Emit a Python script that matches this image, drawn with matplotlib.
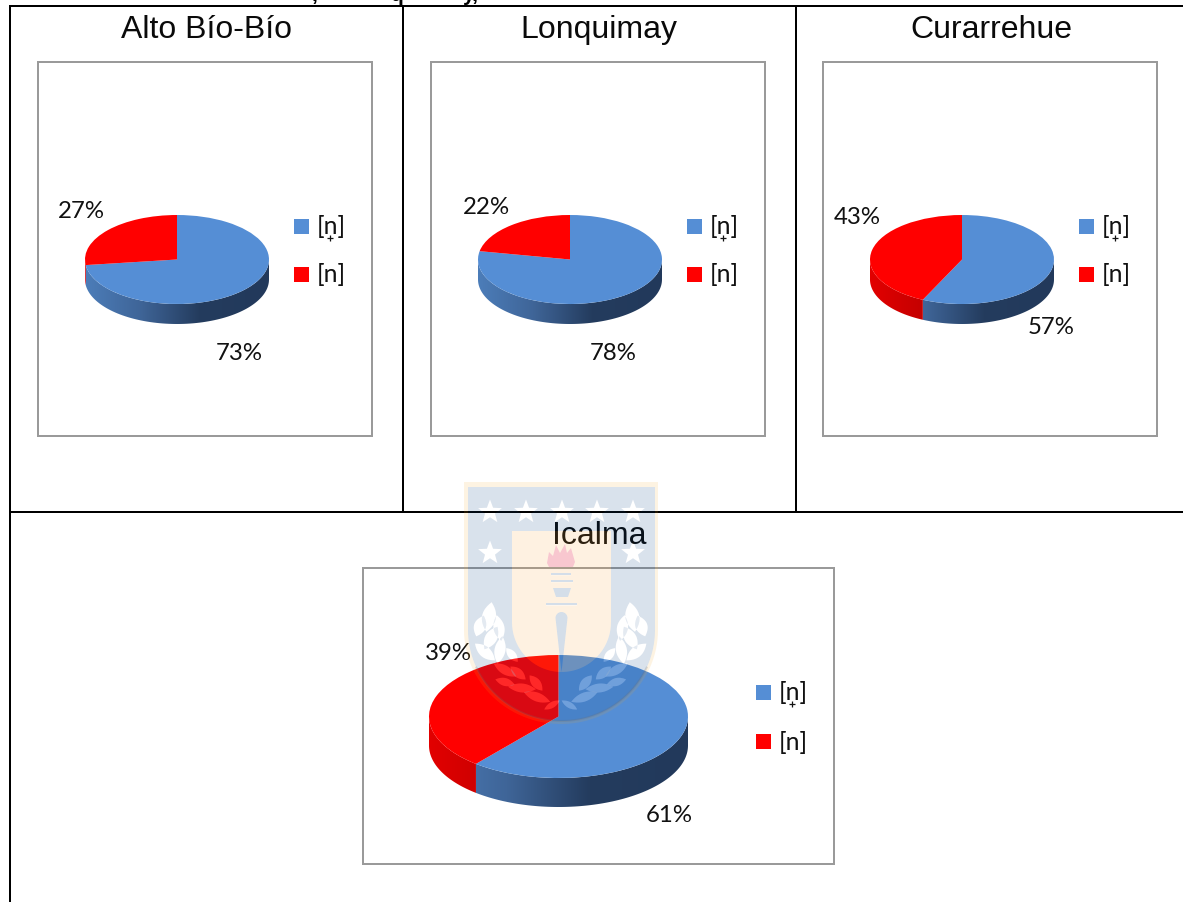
import numpy as np
import matplotlib
matplotlib.use("Agg")
import matplotlib.pyplot as plt
from matplotlib.colors import LinearSegmentedColormap
from matplotlib.patches import PathPatch, Polygon, Rectangle
from matplotlib.path import Path

# Share of each segment per locality
localities = ["Alto Bío-Bío", "Lonquimay", "Curarrehue", "Icalma"]
advanced_n = [73, 78, 57, 61]
plain_n = [27, 22, 43, 39]
legend_labels = ["[n]", "[n]"]
legend_diacritics = [True, False]

W, H = 1183, 902
BLUE, RED = "#558ED5", "#FF0000"
TITLE_FONT = ["Liberation Sans", "DejaVu Sans"]
BODY_FONT = ["Lato", "DejaVu Sans"]

# Pixel layout of each panel
panels = [
    dict(frame=(38.5, 62, 372.5, 436), cx=177, cy=259.5, rx=92, ry=44.5, depth=20,
         title=(207, 30), lab_a=(239, 353), lab_b=(81, 212), leg_x=294, leg_y=(226, 274)),
    dict(frame=(431, 62, 765, 436), cx=570, cy=259.5, rx=92, ry=44.5, depth=20,
         title=(599, 30), lab_a=(613, 353), lab_b=(486, 208), leg_x=687, leg_y=(226, 274)),
    dict(frame=(823.5, 62, 1157.5, 436), cx=962, cy=259.5, rx=92, ry=44.5, depth=20,
         title=(991, 30), lab_a=(1051, 327), lab_b=(857, 218), leg_x=1079, leg_y=(226, 274)),
    dict(frame=(363, 568, 834, 864), cx=558.5, cy=716.5, rx=129.5, ry=61.5, depth=29,
         title=(599, 536), lab_a=(669, 816), lab_b=(448, 654), leg_x=756, leg_y=(692, 741)),
]

fig = plt.figure(figsize=(W / 100, H / 100), dpi=100, facecolor="white")
base = fig.add_axes([0, 0, 1, 1], zorder=0)
base.set_xlim(0, W)
base.set_ylim(H, 0)
base.axis("off")


def px(n):
    return n * 72 / 100


# Table rules
rule = dict(color="black", lw=px(2), solid_capstyle="butt")
base.plot([10, W], [6, 6], **rule)
base.plot([10, W], [512, 512], **rule)
base.plot([10, 10], [5, H], **rule)
base.plot([403, 403], [6, 512], **rule)
base.plot([796, 796], [6, 512], **rule)

# Caption running off the top edge
for xpos, frag in [(312, ","), (390, "q"), (463, "y,")]:
    base.text(xpos, 1, frag, fontsize=15, fontweight="bold", family=TITLE_FONT,
              ha="left", va="baseline", color="black")

blue_side = LinearSegmentedColormap.from_list(
    "blue_side", [(0, "#4C7DB9"), (0.3, "#3F6598"), (0.62, "#243C5E"), (1, "#22395B")])
red_side = LinearSegmentedColormap.from_list(
    "red_side", [(0, "#E20000"), (0.35, "#BE0000"), (1, "#B00000")])


def draw_side(p, start_deg, end_deg, cmap):
    """Cylinder wall for a clockwise-from-top angular span, front half only."""
    lo, hi = max(start_deg, 90), min(end_deg, 270)
    if hi <= lo:
        return
    t = np.radians(np.linspace(lo, hi, 90))
    xs = p["cx"] + p["rx"] * np.sin(t)
    ys = p["cy"] - p["ry"] * np.cos(t)
    verts = np.r_[np.c_[xs, ys], np.c_[xs[::-1], ys[::-1] + p["depth"]]]
    clip = Polygon(verts, closed=True, transform=base.transData, fc="none", ec="none")
    base.add_patch(clip)
    ramp = np.linspace(0, 1, 256)[None, :]
    im = base.imshow(ramp, cmap=cmap, aspect="auto", vmin=0, vmax=1,
                     extent=(p["cx"] - p["rx"], p["cx"] + p["rx"],
                             p["cy"] + p["ry"] + p["depth"], p["cy"] - p["ry"]),
                     interpolation="bilinear", zorder=2)
    im.set_clip_path(clip)
    base.set_xlim(0, W)
    base.set_ylim(H, 0)


for p, name, a, b in zip(panels, localities, advanced_n, plain_n):
    x0, y0, x1, y1 = p["frame"]
    base.add_patch(Rectangle((x0, y0), x1 - x0, y1 - y0, fc="none", ec="#9A9A9A",
                             lw=px(2), zorder=1))
    base.text(*p["title"], name, family=TITLE_FONT, fontsize=23, ha="center",
              va="center", color="#0a0a0a", zorder=4)

    boundary = a / (a + b) * 360
    draw_side(p, 0, boundary, blue_side)
    draw_side(p, boundary, 360, red_side)

    # Top face: a pie stretched into an ellipse by its own axes
    ax = fig.add_axes([(p["cx"] - p["rx"]) / W, 1 - (p["cy"] + p["ry"]) / H,
                       2 * p["rx"] / W, 2 * p["ry"] / H], zorder=1)
    ax.pie([a, b], colors=[BLUE, RED], startangle=90, counterclock=False, radius=1,
           wedgeprops=dict(linewidth=0))
    ax.set_aspect("auto")
    ax.set_xlim(-1, 1)
    ax.set_ylim(-1, 1)
    ax.patch.set_alpha(0)

    base.text(*p["lab_a"], f"{a}%", family=BODY_FONT, fontsize=17.3, ha="center",
              va="center", color="#111111", zorder=4)
    base.text(*p["lab_b"], f"{b}%", family=BODY_FONT, fontsize=17.3, ha="center",
              va="center", color="#111111", zorder=4)

    for colour, label, mark, yc in zip([BLUE, RED], legend_labels, legend_diacritics, p["leg_y"]):
        base.add_patch(Rectangle((p["leg_x"], yc - 7.5), 15, 15, fc=colour, ec="none", zorder=3))
        base.text(p["leg_x"] + 22.5, yc + 1, label, family=BODY_FONT, fontsize=18,
                  ha="left", va="center", color="#111111", zorder=4)
        if mark:
            # Plus sign under the n, drawn as a tiny mark
            base.plot([p["leg_x"] + 36], [yc + 11.5], marker="+", ms=4.2, mew=0.9,
                      color="#111111", zorder=4)

# University crest printed faintly across the page
crest = fig.add_axes([0, 0, 1, 1], zorder=5)
crest.set_xlim(0, W)
crest.set_ylim(H, 0)
crest.axis("off")
crest.patch.set_alpha(0)


def oriented(verts, positive=True):
    verts = np.asarray(verts, float)
    x, y = verts[:, 0], verts[:, 1]
    area = 0.5 * np.sum(x * np.roll(y, -1) - np.roll(x, -1) * y)
    return verts if (area > 0) == positive else verts[::-1]


def shield(x0, x1, top, straight_to, bottom):
    xc = (x0 + x1) / 2
    rx = (x1 - x0) / 2
    t = np.linspace(0, np.pi, 60)
    arc = np.c_[xc + rx * np.cos(t), straight_to + (bottom - straight_to) * np.sin(t)]
    return np.r_[[[x1, top]], arc, [[x0, top]]]


def star(xc, yc, r=12.5):
    ang = np.radians(np.arange(10) * 36 - 90)
    rad = np.where(np.arange(10) % 2 == 0, r, r * 0.42)
    return np.c_[xc + rad * np.cos(ang), yc + rad * np.sin(ang)]


def leaf(xc, yc, half_len, half_wid, angle):
    t = np.linspace(-1, 1, 14)
    upper = np.c_[t * half_len, half_wid * (1 - t**2)]
    lower = np.c_[t[::-1] * half_len, -half_wid * (1 - t[::-1]**2)]
    pts = np.r_[upper, lower[1:-1]]
    c, s = np.cos(np.radians(angle)), np.sin(np.radians(angle))
    return np.c_[xc + c * pts[:, 0] - s * pts[:, 1], yc + s * pts[:, 0] + c * pts[:, 1]]


def compound(loops):
    verts, codes = [], []
    for i, loop in enumerate(loops):
        loop = oriented(loop, positive=(i == 0))
        verts.extend(loop.tolist() + [loop[0].tolist()])
        codes.extend([Path.MOVETO] + [Path.LINETO] * (len(loop) - 1) + [Path.CLOSEPOLY])
    return Path(verts, codes)


def box(x, y, w, h):
    return np.array([(x, y), (x + w, y), (x + w, y + h), (x, y + h)], float)


XC = 560.7
outer = shield(464, 658, 482, 630, 724)
body = shield(468, 655, 487, 630, 721)
inner = shield(512, 611, 531, 622, 672)

# Leaves given for the left branch, mirrored for the right (centre, half sizes, tilt)
left_leaves = [
    (489, 617, 15, 7, -80), (480, 626, 11, 6, -70), (499, 628, 13, 5.5, -100),
    (491, 638, 13, 6, -60), (485, 652, 13, 5.5, 40), (500, 650, 14, 5.5, -80),
    (512, 655, 9, 4, 50), (505, 670, 13, 4.5, 30), (518, 673, 10, 4.5, 40),
    (505, 682, 10, 4, 15), (522, 688, 14, 4.5, 5), (536, 683, 10, 4.5, 50),
    (537, 697, 14, 4.5, 20), (552, 705, 9, 3, -30),
]
right_leaves = [(2 * XC - x, y, hl, hw, 180 - ang) for x, y, hl, hw, ang in left_leaves]
stars = [star(x, 512) for x in (490, 526, 562, 597, 633)] + [star(490, 553), star(633, 553)]
leaves = [leaf(*spec) for spec in left_leaves + right_leaves]

# Torch parts: the blue shows through the cream field
bars = [box(551, 573, 20, 2.2), box(551, 580, 22, 2.2), box(546, 603, 31, 2.4)]
cup = np.array([(553, 588), (571, 588), (568, 597), (556, 597)], float)
handle_t = np.linspace(np.pi, 0, 20)
handle = np.r_[np.c_[561.5 + 6 * np.cos(handle_t), 618 - 6 * np.sin(handle_t)], [[561.5, 672]]]
flame = np.array([(547, 563), (549, 552), (553, 556), (556, 545), (560, 553), (565, 544),
                  (567, 553), (571, 548), (575, 562), (573, 567), (549, 567)], float)

crest.add_patch(PathPatch(compound([outer, body]), fc="#F5A623", ec="none", alpha=0.13))
crest.add_patch(PathPatch(compound([body, inner] + stars + leaves), fc="#003F80",
                          ec="none", alpha=0.15))
crest.add_patch(PathPatch(compound([inner, flame, cup, handle] + bars), fc="#F9A63A",
                          ec="none", alpha=0.15))
for shape in [cup, handle] + bars:
    crest.add_patch(Polygon(shape, fc="#003F80", ec="none", alpha=0.17))
crest.add_patch(Polygon(flame, fc="#E8304F", ec="none", alpha=0.27))
for shape in leaves:
    crest.add_patch(Polygon(shape, fc="white", ec="none", alpha=0.16))

# Faint rim along the foot of the shield
rim = shield(468, 655, 487, 630, 721)[1:-1]
crest.plot(rim[8:-8, 0], rim[8:-8, 1], color="#707070", lw=px(2), alpha=0.22)

fig.savefig("out.png", dpi=100, facecolor="white")
